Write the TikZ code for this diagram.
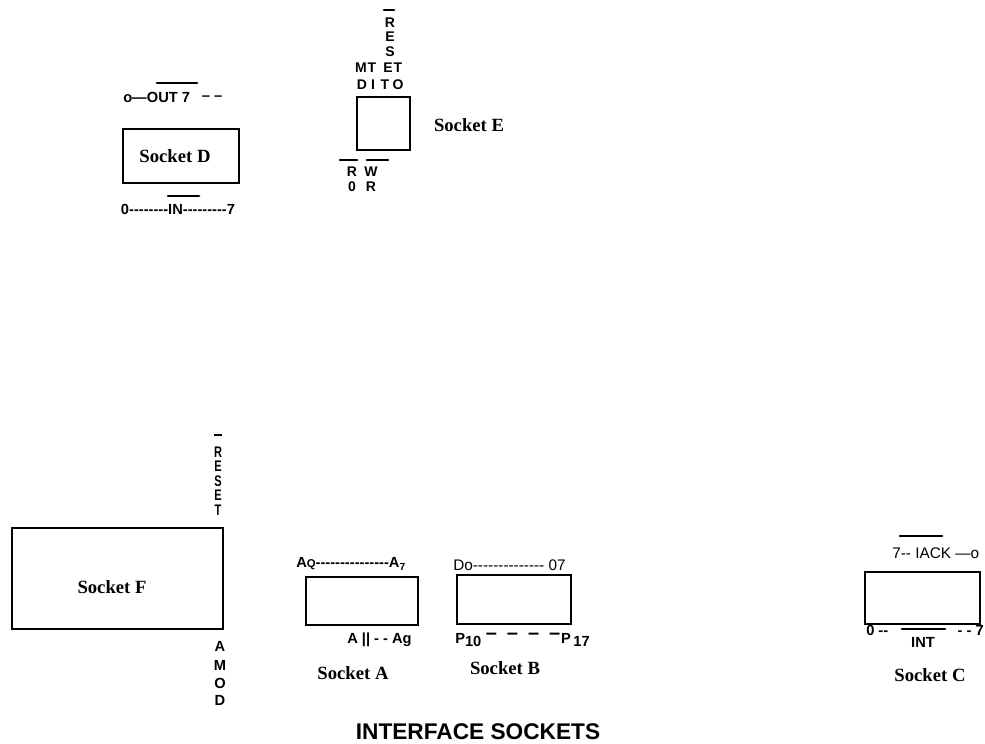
\documentclass[tikz,border=0pt]{standalone}
\usepackage{fontspec}
\setmainfont{Liberation Serif}
\setsansfont{Liberation Sans}[Ligatures=TeXOff]
\newcommand{\narrowch}[1]{\scalebox{0.72}[1]{#1}}
\begin{document}
\begin{tikzpicture}[x=0.75pt,y=-0.75pt,
  sock/.style={draw, line width=1.9pt},
  slab/.style={font=\rmfamily\bfseries\fontsize{14}{16}\selectfont, inner sep=0},
  pin/.style={font=\sffamily\bfseries\fontsize{11}{13}\selectfont, inner sep=0},
  pinv/.style={font=\sffamily\bfseries\fontsize{10.5}{12}\selectfont, inner sep=0},
  pinn/.style={font=\sffamily\bfseries\fontsize{11.5}{13}\selectfont, inner sep=0},
  pinr/.style={font=\sffamily\fontsize{11.5}{13}\selectfont, inner sep=0},
  bar/.style={line width=2.2pt, line cap=round},
  title/.style={font=\sffamily\bfseries\fontsize{17}{20}\selectfont, inner sep=0}]
\useasboundingbox (0,0) rectangle (985,743);

% Socket D
\draw[sock] (123,129) rectangle (239,183);
\node[slab] (dlab) at (175,156) {Socket D};
\node[pin, anchor=west] (dout) at (123,97) {o—OUT 7};
\node[pin] (doutd) at (212,98) {– –};
\draw[bar] (157,83) -- (197,83);
\node[pin] (din) at (178,209) {0--------IN---------7};
\draw[bar] (168,196) -- (199,196);

% Socket E
\draw[sock] (357,97) rectangle (410,150);
\node[slab] (elab) at (469,125) {Socket E};
\draw[bar] (384,10) -- (394,10);
\node[pinv] (e1) at (390,23) {R};
\node[pinv] (e2) at (390,37) {E};
\node[pinv] (e3) at (390,52) {S};
\node[pinv] (e4) at (388,68) {E};
\node[pinv] (e5) at (385,85) {T};
\node[pinv] (e6) at (361,68) {M};
\node[pinv] (e7) at (362,85) {D};
\node[pinv] (e8) at (372,68) {T};
\node[pinv] (e9) at (373,85) {I};
\node[pinv] (e10) at (398,68) {T};
\node[pinv] (e11) at (398,85) {O};
\draw[bar] (340,160) -- (357,160);
\draw[bar] (367,160) -- (388,160);
\node[pinv] (e12) at (352,172) {R};
\node[pinv] (e13) at (371,172) {W};
\node[pinv] (e14) at (352,187) {0};
\node[pinv] (e15) at (371,187) {R};

% Socket F
\draw[sock] (12,528) rectangle (223,629);
\node[slab] (flab) at (112,587) {Socket F};
\draw[line width=1.6pt] (214,435) -- (222,435);
\node[pinn] (f1) at (218,452) {\narrowch{R}};
\node[pinn] (f2) at (218,466) {\narrowch{E}};
\node[pinn] (f3) at (218,481) {\narrowch{S}};
\node[pinn] (f4) at (218,495) {\narrowch{E}};
\node[pinn] (f5) at (218,510) {\narrowch{T}};
\node[pin] (f6) at (220,646) {A};
\node[pin] (f7) at (220,665) {M};
\node[pin] (f8) at (220,683) {O};
\node[pin] (f9) at (220,700) {D};

% Socket A
\draw[sock] (306,577) rectangle (418,625);
\node[pin, anchor=west] (atop) at (296,564) {A{\fontsize{8.5}{9}\selectfont Q}---------------A\textsubscript{7}};
\node[pin, anchor=west] (abot) at (347,640) {A || - - Ag};
\node[slab] (alab) at (353,673) {Socket A};

% Socket B
\draw[sock] (457,575) rectangle (571,624);
\node[pinr, anchor=west] (btop) at (453,565) {Do-------------- 07};
\node[pin, anchor=west] (bp1) at (455,640) {P\raisebox{-0.5ex}{10}};
\node[pin, font=\sffamily\bfseries\fontsize{15}{15}\selectfont] (bdash) at (523,636) {–\enspace –\enspace –\enspace –};
\node[pin, anchor=east] (bp2) at (590,640) {P\raisebox{-0.5ex}{\,17}};
\node[slab] (blab) at (505,668) {Socket B};

% Socket C
\draw[sock] (865,572) rectangle (980,624);
\node[pinr, anchor=west] (ctop) at (892,553) {7-- IACK —o};
\draw[bar] (900,536) -- (942,536);
\node[pin, anchor=west] (cb1) at (866,630) {0 --};
\draw[bar] (902,629) -- (945,629);
\node[pin, anchor=east] (cb2) at (984,630) {- - 7};
\node[pin] (cint) at (923,642) {INT};
\node[slab] (clab) at (930,675) {Socket C};

% Title
\node[title] (ttl) at (478,732) {INTERFACE SOCKETS};
\end{tikzpicture}
\end{document}
